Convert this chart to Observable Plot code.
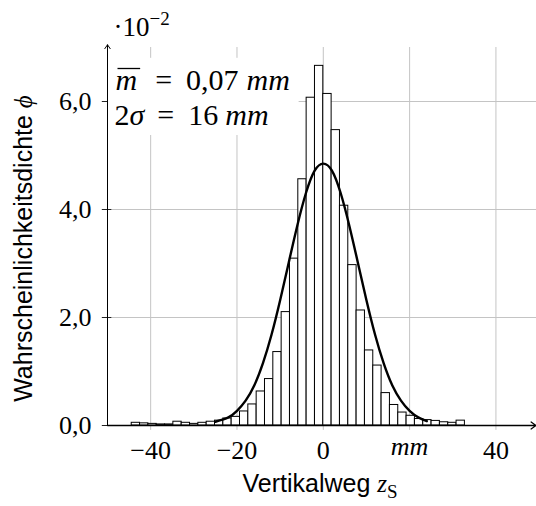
<!DOCTYPE html>
<html><head><meta charset="utf-8">
<script src="https://cdn.jsdelivr.net/npm/d3@7"></script>
<script src="https://cdn.jsdelivr.net/npm/@observablehq/plot@0.6"></script>
<style>body{margin:0;background:#fff}</style>
</head><body><div id="chart"></div>
<script>
// histogram bin edges (mm) and densities (·10^-2)
const binEdges = [-44.39, -42.46, -40.53, -38.60, -36.67, -34.74, -32.81, -30.88, -28.95, -27.02,
  -25.09, -23.16, -21.23, -19.30, -17.37, -15.44, -13.51, -11.58, -9.65, -7.72,
  -5.79, -3.86, -1.93, 0, 1.93, 3.86, 5.79, 7.72, 9.65, 11.58,
  13.51, 15.44, 17.37, 19.30, 21.23, 23.16, 25.09, 27.02, 28.95, 30.88, 32.81];
const density = [0.05, 0.04, 0.03, 0.02, 0.02, 0.07, 0.05, 0.03, 0.05, 0.07,
  0.09, 0.13, 0.16, 0.26, 0.39, 0.63, 0.86, 1.36, 2.10, 3.09,
  4.56, 6.07, 6.66, 6.14, 5.47, 4.07, 2.97, 2.13, 1.39, 1.11,
  0.60, 0.38, 0.24, 0.18, 0.12, 0.10, 0.085, 0.06, 0.05, 0.09];
// fitted normal curve
const curveX = [-25, -22, -20, -18, -16, -14, -12, -10, -8, -6, -4, -2, 0, 2, 4, 6, 8, 10, 12, 14, 16, 18, 20, 22, 24];
const curveY = [0.07, 0.15, 0.27, 0.46, 0.74, 1.15, 1.68, 2.32, 3.02, 3.71, 4.31, 4.72, 4.85, 4.72, 4.31, 3.71, 3.02, 2.32, 1.68, 1.15, 0.74, 0.46, 0.27, 0.15, 0.08];
const xTicks = [-40, -20, 0, 20, 40];
const xTickLabels = ["−40", "−20", "0", "mm", "40"];
const yTicks = [0, 2, 4, 6];
const yTickLabels = ["0,0", "2,0", "4,0", "6,0"];
const yGrid = [2, 4, 6];
const meanLabel = "m = 0,07 mm";
const sigmaLabel = "2σ = 16 mm";
const xTitle = "Vertikalweg zS";
const yTitle = "Wahrscheinlichkeitsdichte ϕ";
const yExponent = "·10−2";

const bins = density.map((d, i) => ({x1: binEdges[i], x2: binEdges[i + 1], y: d}));
const curve = curveX.map((x, i) => ({x, y: curveY[i]}));
const gridColor = "#c4c4c4";
const serif = "'Liberation Serif', serif";
const sans = "'Liberation Sans', sans-serif";

const svg = Plot.plot({
  width: 536, height: 506,
  marginLeft: 107, marginRight: 0, marginTop: 47, marginBottom: 81,
  x: {domain: [-50, 49.4]},
  y: {domain: [0, 7]},
  style: {fontFamily: serif, fontSize: "26px", background: "white", overflow: "visible"},
  marks: [
    Plot.ruleX(xTicks, {y1: -0.09, y2: 7, stroke: gridColor, strokeWidth: 1}),
    Plot.ruleY(yGrid, {x1: -50, x2: 49.4, stroke: gridColor, strokeWidth: 1}),
    Plot.ruleY(yTicks, {x1: -51.2, x2: -49, stroke: "#222", strokeWidth: 1}),
    Plot.rect([0], {x1: -50, x2: -5.6, y1: 5.37, y2: 6.8, fill: "white"}),
    Plot.rectY(bins, {x1: "x1", x2: "x2", y: "y", fill: "white", stroke: "black", strokeWidth: 1}),
    Plot.line(curve, {x: "x", y: "y", curve: "natural", stroke: "black", strokeWidth: 2.4}),
    Plot.arrow([0], {x1: -50, y1: 0, x2: 49.3, y2: 0, stroke: "black", strokeWidth: 1.3, headLength: 7, headAngle: 70}),
    Plot.arrow([0], {x1: -50, y1: 0, x2: -50, y2: 7.05, stroke: "black", strokeWidth: 1, headLength: 7, headAngle: 70}),
    Plot.axisX({ticks: xTicks, tickFormat: d => xTickLabels[xTicks.indexOf(d)], tickSize: 0, tickPadding: 15, label: null}),
    Plot.axisY({ticks: yTicks, tickFormat: d => yTickLabels[yTicks.indexOf(d)], tickSize: 0, tickPadding: 16, label: null}),
    Plot.text([yTitle], {text: d => d, frameAnchor: "left", rotate: -90, textAnchor: "middle", lineAnchor: "bottom", dx: -76, dy: 12, fontSize: 25}),
    Plot.text([xTitle], {text: d => d, frameAnchor: "bottom", textAnchor: "middle", lineAnchor: "bottom", dx: -2, dy: 66, fontSize: 25}),
    Plot.text([yExponent], {text: d => d, frameAnchor: "top-left", textAnchor: "start", lineAnchor: "bottom", dx: 6, dy: -12, fontSize: 27}),
    Plot.text([meanLabel], {text: d => d, frameAnchor: "top-left", textAnchor: "start", lineAnchor: "bottom", dx: 8, dy: 42, fontSize: 30}),
    Plot.text([sigmaLabel], {text: d => d, frameAnchor: "top-left", textAnchor: "start", lineAnchor: "bottom", dx: 7, dy: 77, fontSize: 30})
  ]
});

const rich = new Map([
  [yTitle, `<tspan font-family="${sans}">Wahrscheinlichkeitsdichte </tspan><tspan font-style="italic">ϕ</tspan>`],
  [xTitle, `<tspan font-family="${sans}">Vertikalweg </tspan><tspan font-style="italic">z</tspan><tspan font-size="19" dy="6">S</tspan>`],
  [meanLabel, `<tspan font-style="italic" class="mbar">m</tspan><tspan dx="18">=</tspan><tspan dx="14">0,07</tspan><tspan dx="8" font-style="italic">mm</tspan>`],
  [sigmaLabel, `2<tspan font-style="italic">σ</tspan><tspan dx="13">=</tspan><tspan dx="14">16</tspan><tspan dx="7" font-style="italic">mm</tspan>`],
  [yExponent, `·10<tspan font-size="19" dy="-11">−2</tspan>`]
]);
document.getElementById("chart").appendChild(svg);
d3.select(svg).selectAll("text").each(function () {
  const t = this.textContent;
  if (rich.has(t)) {
    this.innerHTML = rich.get(t);
  } else if (t === "mm") { this.setAttribute("font-style", "italic"); this.setAttribute("dy", "-4"); }
});
// overline above the mean symbol
d3.select(svg).selectAll("tspan.mbar").each(function () {
  const text = this.parentNode;
  const s = text.getStartPositionOfChar(0);
  const e = text.getEndPositionOfChar(0);
  const line = document.createElementNS("http://www.w3.org/2000/svg", "line");
  line.setAttribute("x1", s.x + 2);
  line.setAttribute("x2", e.x + 3);
  line.setAttribute("y1", s.y - 21);
  line.setAttribute("y2", s.y - 21);
  line.setAttribute("stroke", "black");
  line.setAttribute("stroke-width", 1.3);
  if (text.getAttribute("transform")) line.setAttribute("transform", text.getAttribute("transform"));
  text.parentNode.appendChild(line);
});
</script>
</body></html>
